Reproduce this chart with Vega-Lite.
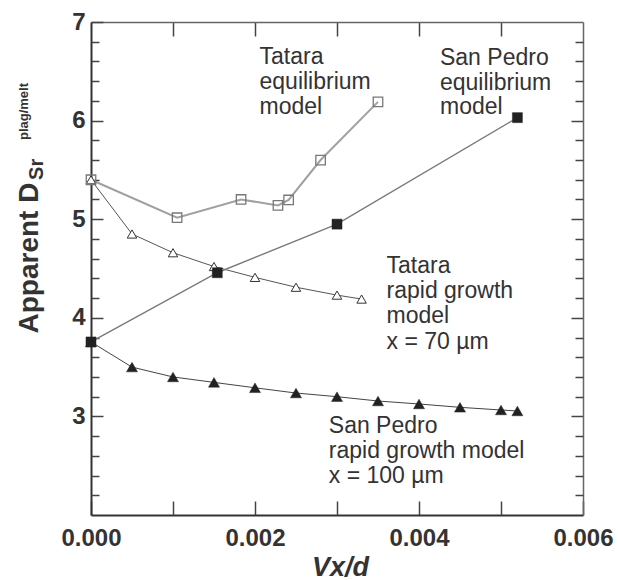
{
  "$schema": "https://vega.github.io/schema/vega-lite/v6.json",
  "width": 492,
  "height": 493,
  "autosize": {"type": "none"},
  "padding": {"left": 91, "top": 22, "right": 35, "bottom": 65},
  "background": "white",
  "config": {
    "view": {"stroke": null},
    "axis": {
      "grid": false,
      "labelFont": "Liberation Sans",
      "labelFontWeight": "bold",
      "labelFontSize": 24,
      "labelColor": "#333",
      "labelFlush": false,
      "labelOverlap": false,
      "labelBound": false,
      "tickColor": "#444",
      "tickWidth": 1.5,
      "domainColor": "#333",
      "domainWidth": 2
    }
  },
  "datasets": {
    "series": [
      {"series": "TE", "x": 0, "y": 5.40},
      {"series": "TE", "x": 0.00105, "y": 5.015},
      {"series": "TE", "x": 0.00183, "y": 5.20},
      {"series": "TE", "x": 0.00228, "y": 5.14},
      {"series": "TE", "x": 0.00241, "y": 5.195},
      {"series": "TE", "x": 0.0028, "y": 5.60},
      {"series": "TE", "x": 0.0035, "y": 6.19},
      {"series": "TR", "x": 0, "y": 5.40},
      {"series": "TR", "x": 0.0005, "y": 4.85},
      {"series": "TR", "x": 0.001, "y": 4.66},
      {"series": "TR", "x": 0.0015, "y": 4.52},
      {"series": "TR", "x": 0.002, "y": 4.41},
      {"series": "TR", "x": 0.0025, "y": 4.31},
      {"series": "TR", "x": 0.003, "y": 4.23},
      {"series": "TR", "x": 0.0033, "y": 4.19},
      {"series": "SE", "x": 0, "y": 3.755},
      {"series": "SE", "x": 0.00154, "y": 4.457},
      {"series": "SE", "x": 0.003, "y": 4.95},
      {"series": "SE", "x": 0.0052, "y": 6.03},
      {"series": "SR", "x": 0, "y": 3.755},
      {"series": "SR", "x": 0.0005, "y": 3.50},
      {"series": "SR", "x": 0.001, "y": 3.40},
      {"series": "SR", "x": 0.0015, "y": 3.345},
      {"series": "SR", "x": 0.002, "y": 3.29},
      {"series": "SR", "x": 0.0025, "y": 3.237},
      {"series": "SR", "x": 0.003, "y": 3.20},
      {"series": "SR", "x": 0.0035, "y": 3.156},
      {"series": "SR", "x": 0.004, "y": 3.126},
      {"series": "SR", "x": 0.0045, "y": 3.092},
      {"series": "SR", "x": 0.005, "y": 3.065},
      {"series": "SR", "x": 0.0052, "y": 3.055}
    ],
    "notes": [
      {"x": 0.002055, "y": 6.574, "text": "Tatara"},
      {"x": 0.002055, "y": 6.317, "text": "equilibrium"},
      {"x": 0.002055, "y": 6.064, "text": "model"},
      {"x": 0.004256, "y": 6.564, "text": "San Pedro"},
      {"x": 0.004256, "y": 6.310, "text": "equilibrium"},
      {"x": 0.004256, "y": 6.064, "text": "model"},
      {"x": 0.003604, "y": 4.451, "text": "Tatara"},
      {"x": 0.003604, "y": 4.198, "text": "rapid growth"},
      {"x": 0.003604, "y": 3.944, "text": "model"},
      {"x": 0.003604, "y": 3.680, "text": "x = 70 µm"},
      {"x": 0.0029, "y": 2.835, "text": "San Pedro"},
      {"x": 0.0029, "y": 2.575, "text": "rapid growth model"},
      {"x": 0.0029, "y": 2.321, "text": "x = 100 µm"}
    ]
  },
  "resolve": {"axis": {"x": "independent", "y": "independent"}},
  "layer": [
    {
      "data": {"name": "series"},
      "transform": [{"filter": "datum.series === 'TE'"}],
      "mark": {"type": "line", "color": "#a0a0a0", "strokeWidth": 2},
      "encoding": {
        "x": {"field": "x", "type": "quantitative", "scale": {"domain": [0, 0.006], "nice": false, "zero": false},
          "axis": {"orient": "bottom", "values": [0, 0.002, 0.004, 0.006], "format": ".3f", "tickSize": -14, "labelPadding": 25,
            "title": "Vx/d", "titleFont": "Liberation Sans", "titleFontSize": 27, "titleFontWeight": "bold", "titleFontStyle": "italic",
            "titleColor": "#333", "titleBaseline": "alphabetic", "titleAlign": "center", "titleX": 249, "titleY": 60}},
        "y": {"field": "y", "type": "quantitative", "scale": {"domain": [2, 7], "nice": false, "zero": false},
          "axis": {"orient": "left", "values": [3, 4, 5, 6, 7], "format": "d", "tickSize": -12, "labelPadding": 18,
            "title": "Apparent D", "titleFont": "Liberation Sans", "titleFontSize": 28, "titleFontWeight": "bold", "titleColor": "#333",
            "titleAngle": 270, "titleAlign": "left", "titleBaseline": "alphabetic", "titleX": -54, "titleY": 311}}
      }
    },
    {
      "data": {"name": "series"},
      "transform": [{"filter": "datum.series === 'TR'"}],
      "mark": {"type": "line", "color": "#555", "strokeWidth": 1},
      "encoding": {
        "x": {"field": "x", "type": "quantitative", "scale": {"domain": [0, 0.006], "nice": false, "zero": false},
          "axis": {"orient": "bottom", "values": [0.001, 0.003, 0.005], "tickSize": -14, "labels": false, "domain": false, "title": null}},
        "y": {"field": "y", "type": "quantitative", "scale": {"domain": [2, 7], "nice": false, "zero": false},
          "axis": {"orient": "left", "values": [2.2, 2.4, 2.6, 2.8, 3.2, 3.4, 3.6, 3.8, 4.2, 4.4, 4.6, 4.8, 5.2, 5.4, 5.6, 5.8, 6.2, 6.4, 6.6, 6.8],
            "tickSize": -8, "labels": false, "domain": false, "title": null}}
      }
    },
    {
      "data": {"name": "series"},
      "transform": [{"filter": "datum.series === 'SE'"}],
      "mark": {"type": "line", "color": "#7a7a7a", "strokeWidth": 1.4},
      "encoding": {
        "x": {"field": "x", "type": "quantitative", "scale": {"domain": [0, 0.006], "nice": false, "zero": false},
          "axis": {"orient": "top", "values": [0.001, 0.002, 0.003, 0.004, 0.005], "tickSize": -14, "labels": false,
            "domainColor": "#666", "domainWidth": 1.5, "title": null}},
        "y": {"field": "y", "type": "quantitative", "scale": {"domain": [2, 7], "nice": false, "zero": false},
          "axis": {"orient": "right", "values": [3, 4, 5, 6], "tickSize": -12, "labels": false,
            "domainColor": "#666", "domainWidth": 1.5, "title": null}}
      }
    },
    {
      "data": {"name": "series"},
      "transform": [{"filter": "datum.series === 'SR'"}],
      "mark": {"type": "line", "color": "#444", "strokeWidth": 1},
      "encoding": {
        "x": {"field": "x", "type": "quantitative", "scale": {"domain": [0, 0.006], "nice": false, "zero": false}, "axis": null},
        "y": {"field": "y", "type": "quantitative", "scale": {"domain": [2, 7], "nice": false, "zero": false},
          "axis": {"orient": "right", "values": [2.2, 2.4, 2.6, 2.8, 3.2, 3.4, 3.6, 3.8, 4.2, 4.4, 4.6, 4.8, 5.2, 5.4, 5.6, 5.8, 6.2, 6.4, 6.6, 6.8],
            "tickSize": -8, "labels": false, "domain": false, "title": null}}
      }
    },
    {
      "data": {"name": "series"},
      "transform": [{"filter": "datum.series === 'TR'"}],
      "mark": {"type": "point", "shape": "triangle-up", "size": 90, "filled": true, "fill": "white", "stroke": "#333", "strokeWidth": 1, "opacity": 1},
      "encoding": {
        "x": {"field": "x", "type": "quantitative", "scale": {"domain": [0, 0.006], "nice": false, "zero": false}, "axis": null},
        "y": {"field": "y", "type": "quantitative", "scale": {"domain": [2, 7], "nice": false, "zero": false}, "axis": null}
      }
    },
    {
      "data": {"name": "series"},
      "transform": [{"filter": "datum.series === 'TE'"}],
      "mark": {"type": "point", "shape": "square", "size": 90, "filled": true, "fill": "white", "fillOpacity": 0, "stroke": "#777", "strokeWidth": 1.3, "opacity": 1},
      "encoding": {
        "x": {"field": "x", "type": "quantitative", "scale": {"domain": [0, 0.006], "nice": false, "zero": false}, "axis": null},
        "y": {"field": "y", "type": "quantitative", "scale": {"domain": [2, 7], "nice": false, "zero": false}, "axis": null}
      }
    },
    {
      "data": {"name": "series"},
      "transform": [{"filter": "datum.series === 'SR'"}],
      "mark": {"type": "point", "shape": "triangle-up", "size": 121, "filled": true, "fill": "#222", "stroke": "#222", "strokeWidth": 0.5, "opacity": 1},
      "encoding": {
        "x": {"field": "x", "type": "quantitative", "scale": {"domain": [0, 0.006], "nice": false, "zero": false}, "axis": null},
        "y": {"field": "y", "type": "quantitative", "scale": {"domain": [2, 7], "nice": false, "zero": false}, "axis": null}
      }
    },
    {
      "data": {"name": "series"},
      "transform": [{"filter": "datum.series === 'SE'"}],
      "mark": {"type": "point", "shape": "square", "size": 100, "filled": true, "fill": "#222", "stroke": "#222", "strokeWidth": 0.5, "opacity": 1},
      "encoding": {
        "x": {"field": "x", "type": "quantitative", "scale": {"domain": [0, 0.006], "nice": false, "zero": false}, "axis": null},
        "y": {"field": "y", "type": "quantitative", "scale": {"domain": [2, 7], "nice": false, "zero": false}, "axis": null}
      }
    },
    {
      "data": {"name": "notes"},
      "mark": {"type": "text", "align": "left", "baseline": "alphabetic", "font": "Liberation Sans", "fontSize": 23, "color": "#333"},
      "encoding": {
        "x": {"field": "x", "type": "quantitative", "scale": {"domain": [0, 0.006], "nice": false, "zero": false}, "axis": null},
        "y": {"field": "y", "type": "quantitative", "scale": {"domain": [2, 7], "nice": false, "zero": false}, "axis": null},
        "text": {"field": "text"}
      }
    },
    {
      "data": {"values": [{"x": -0.000585, "y": 5.398, "text": "Sr"}]},
      "mark": {"type": "text", "angle": 270, "align": "left", "baseline": "alphabetic", "font": "Liberation Sans", "fontWeight": "bold", "fontSize": 20, "color": "#333"},
      "encoding": {
        "x": {"field": "x", "type": "quantitative", "scale": {"domain": [0, 0.006], "nice": false, "zero": false}, "axis": null},
        "y": {"field": "y", "type": "quantitative", "scale": {"domain": [2, 7], "nice": false, "zero": false}, "axis": null},
        "text": {"field": "text"}
      }
    },
    {
      "data": {"values": [{"x": -0.000768, "y": 5.803, "text": "plag/melt"}]},
      "mark": {"type": "text", "angle": 270, "align": "left", "baseline": "alphabetic", "font": "'Liberation Sans Narrow', 'Liberation Sans'", "fontWeight": "bold", "fontSize": 13, "color": "#333"},
      "encoding": {
        "x": {"field": "x", "type": "quantitative", "scale": {"domain": [0, 0.006], "nice": false, "zero": false}, "axis": null},
        "y": {"field": "y", "type": "quantitative", "scale": {"domain": [2, 7], "nice": false, "zero": false}, "axis": null},
        "text": {"field": "text"}
      }
    }
  ]
}
